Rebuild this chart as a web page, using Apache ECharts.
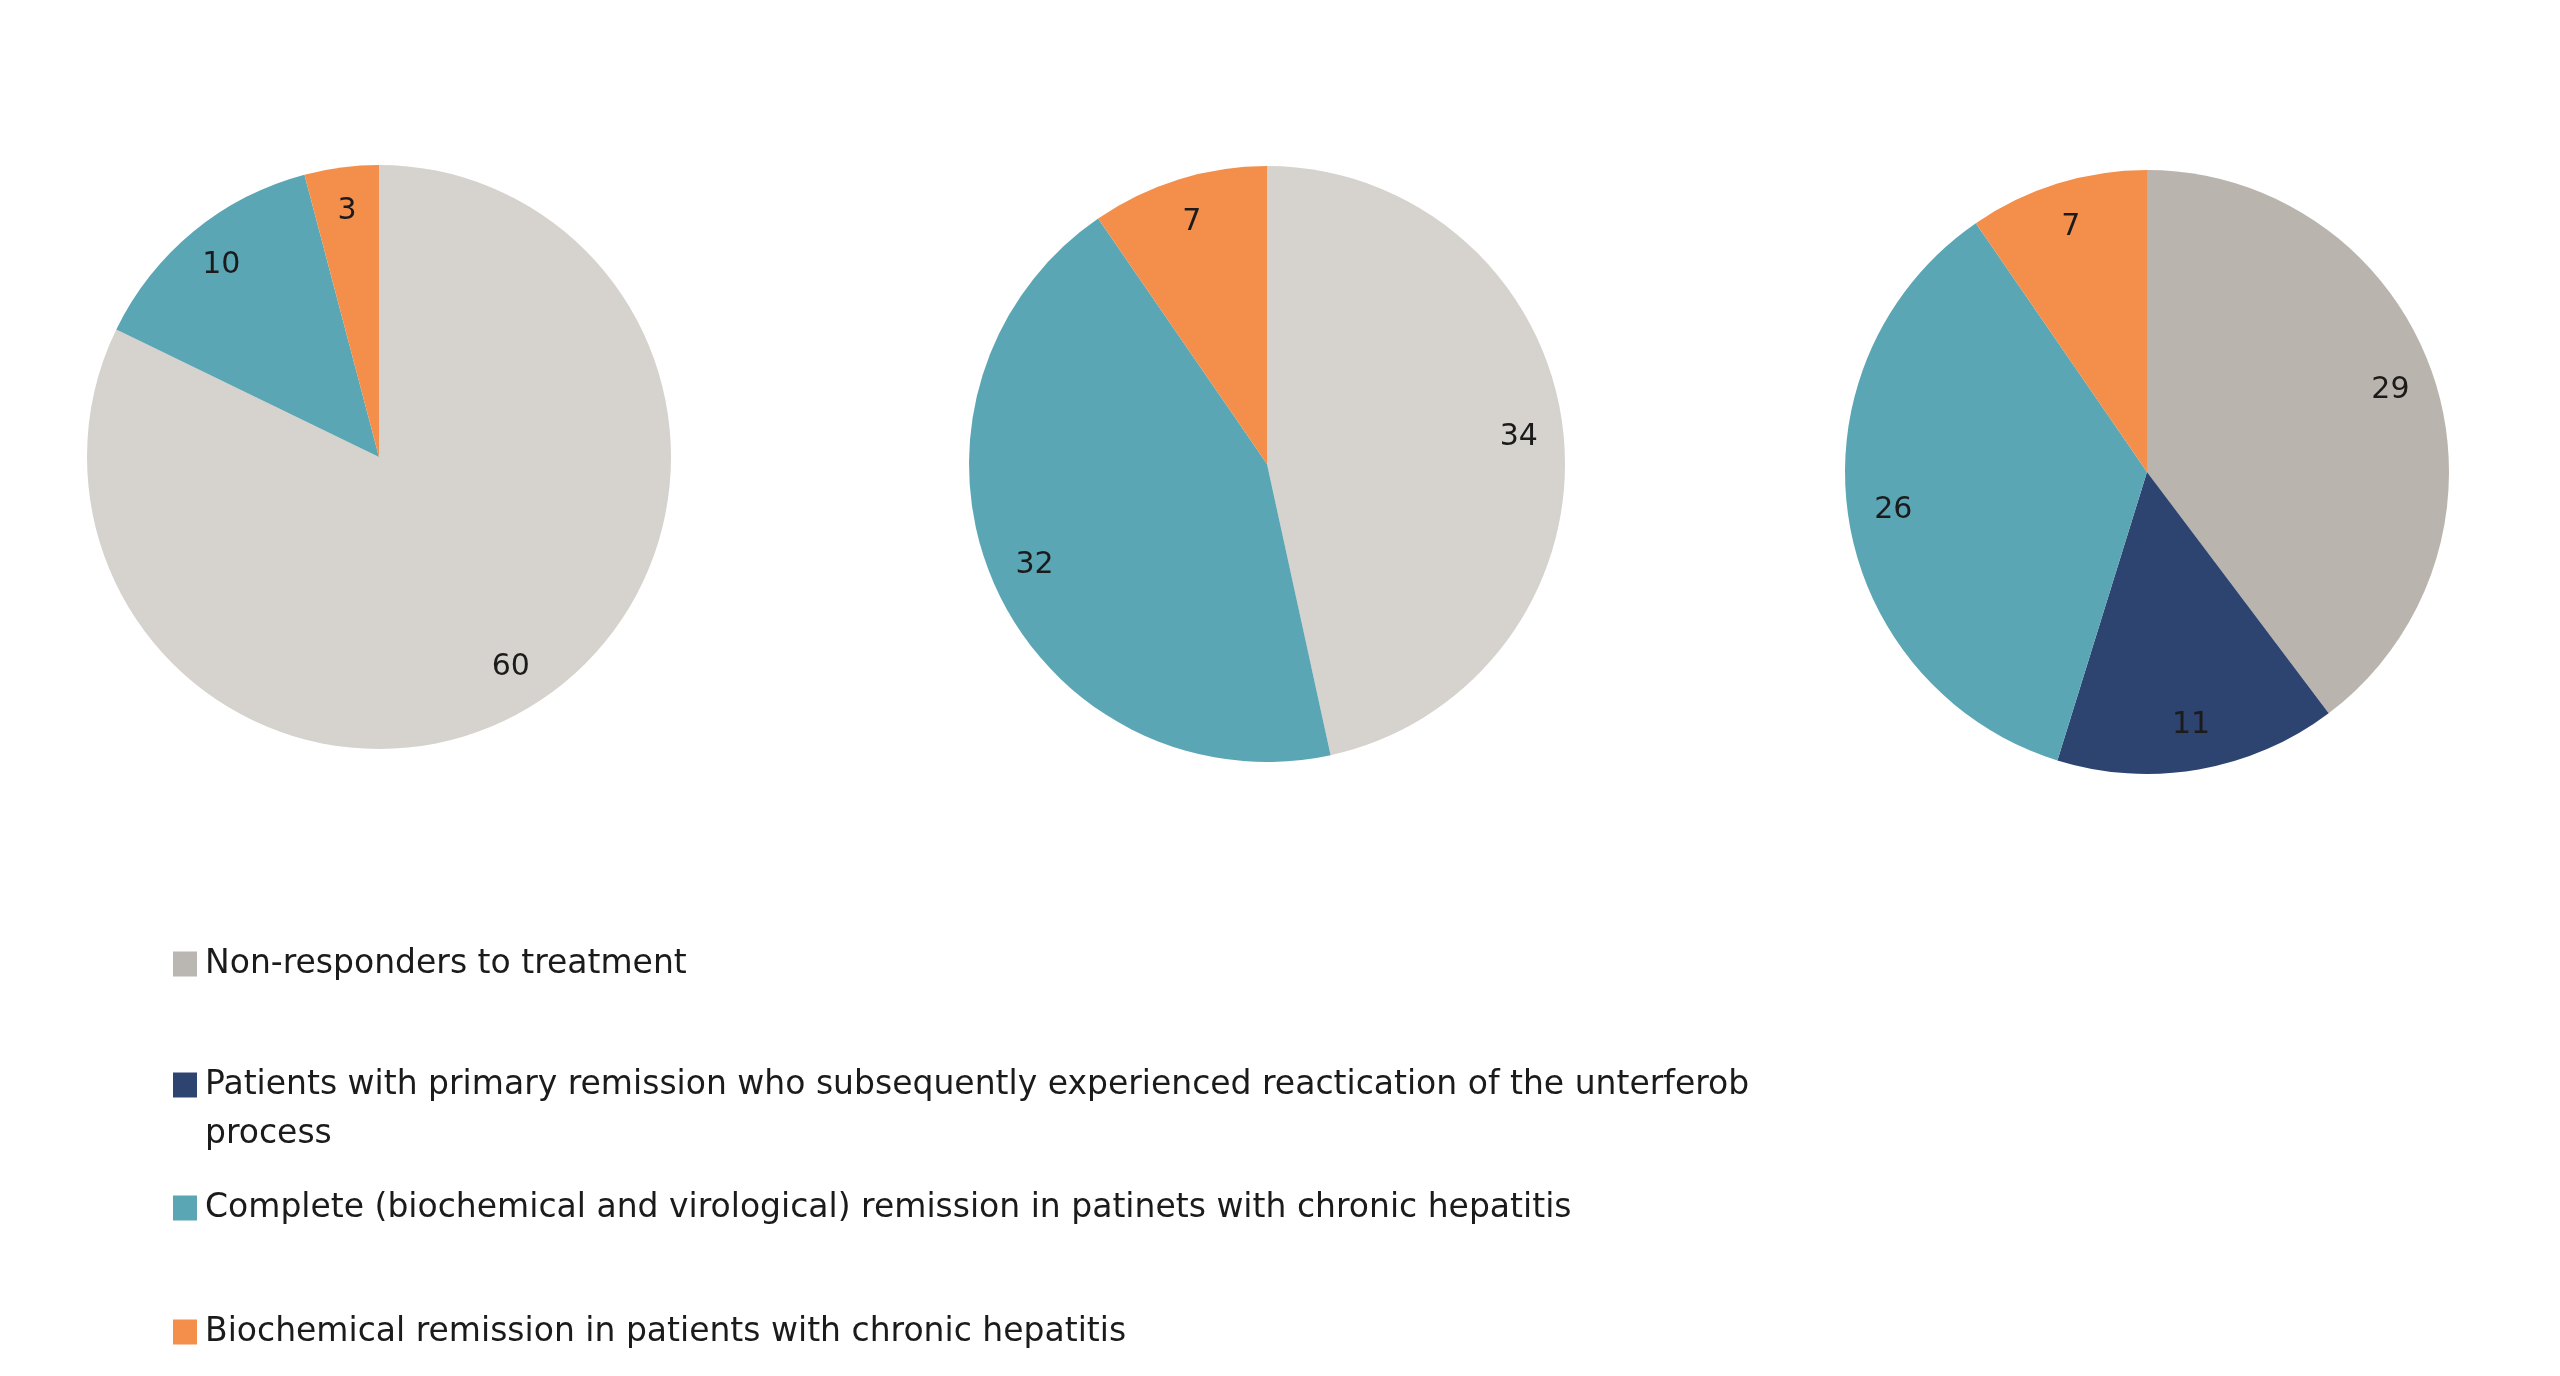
<!DOCTYPE html>
<html lang="en">
<head>
<meta charset="UTF-8">
<title>Treatment outcome</title>
<script src="https://cdn.jsdelivr.net/npm/echarts@6/dist/echarts.min.js"></script>
<style>
  html, body { margin: 0; padding: 0; background: #fff; }
  #main { width: 2560px; height: 1376px; }
</style>
</head>
<body>
<div id="main"></div>
<script>
// categories, in the order they run clockwise from 12 o'clock
var categories = [
    'Non-responders to treatment',
    'Patients with primary remission who subsequently experienced reactication of the unterferob process',
    'Complete (biochemical and virological) remission in patinets with chronic hepatitis',
    'Biochemical remission in patients with chronic hepatitis'
];
// one value per pie (left, middle, right)
var nonResponders = [60, 34, 29];
var relapsed      = [0, 0, 11];
var complete      = [10, 32, 26];
var biochemical   = [3, 7, 7];

var values = [nonResponders, relapsed, complete, biochemical];

// styles
var colors = ['#d6d2cd', '#2e4470', '#5ba6b4', '#f38f4a'];
var greyPerPie = ['#d6d2cd', '#d6d2cd', '#b9b4ae'];
var legendGrey = '#bab6b1';
var pieCenters = [[379, 457], [1267, 464], [2147, 472]];
var pieRadius = [292, 298, 302];
var legendRows = [964, 1085, 1208, 1332];
var font = 'DejaVu Sans';

var chart = echarts.init(document.getElementById('main'));

var series = [];
pieCenters.forEach(function (c, i) {
    var data = [];
    categories.forEach(function (name, k) {
        var v = values[k][i];
        if (v > 0) {
            data.push({
                name: name,
                value: v,
                itemStyle: { color: k === 0 ? greyPerPie[i] : colors[k] }
            });
        }
    });
    // the slices
    series.push({
        type: 'pie',
        center: c,
        radius: pieRadius[i],
        startAngle: 90,
        clockwise: true,
        label: { show: false },
        labelLine: { show: false },
        itemStyle: { borderWidth: 0 },
        emphasis: { scale: false },
        data: data
    });
    // an invisible ring on top so the value labels sit near the rim
    series.push({
        type: 'pie',
        center: c,
        radius: [pieRadius[i] * 0.68, pieRadius[i]],
        startAngle: 90,
        clockwise: true,
        silent: true,
        label: {
            show: true,
            position: 'inside',
            formatter: '{c}',
            color: '#1b1b1b',
            fontFamily: font,
            fontSize: 30
        },
        labelLine: { show: false },
        itemStyle: { color: 'rgba(0,0,0,0)', borderWidth: 0 },
        emphasis: { disabled: true },
        data: data.map(function (d) { return { name: d.name, value: d.value }; })
    });
});

// one legend block per row, swatch lined up with the first text line
var legends = categories.map(function (name, k) {
    var twoLines = k === 1;
    return {
        orient: 'vertical',
        left: 173,
        top: twoLines ? legendRows[k] - 73.5 : legendRows[k] - 20,
        padding: 0,
        icon: 'rect',
        itemWidth: 24,
        itemHeight: 25,
        selectedMode: false,
        formatter: function (n) {
            // empty first line keeps the swatch level with the first text line
            return twoLines ? ' \n' + n.replace(' process', '\nprocess') : n;
        },
        textStyle: {
            fontFamily: font,
            fontSize: 33,
            color: '#1b1b1b',
            lineHeight: twoLines ? 49 : 40,
            padding: [0, 0, 0, 3]
        },
        data: [{ name: name, itemStyle: { color: k === 0 ? legendGrey : colors[k] } }]
    };
});

chart.setOption({
    backgroundColor: '#ffffff',
    animation: false,
    legend: legends,
    series: series
});
</script>
</body>
</html>
